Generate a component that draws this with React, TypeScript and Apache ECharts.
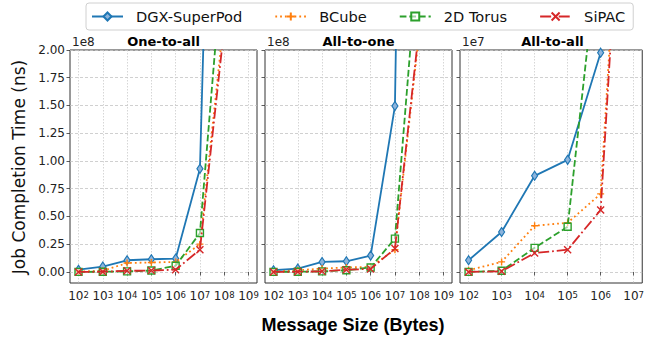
import React, { useEffect, useRef } from 'react';
import * as echarts from 'echarts';

// ---------------- data ----------------
const messageSizes = [1e2, 1e3, 1e4, 1e5, 1e6, 1e7, 1e8, 1e9];
const messageSizesA2A = [1e2, 1e3, 1e4, 1e5, 1e6, 1e7];

const seriesNames = ['DGX-SuperPod', 'BCube', '2D Torus', 'SiPAC'];
const panelTitles = ['One-to-all', 'All-to-one', 'All-to-all'];
const offsetLabels = ['1e8', '1e8', '1e7'];

// Job completion time (ns)
const oneToAllDGX = [2.0e6, 4.8e6, 1.05e7, 1.14e7, 1.2e7, 9.3e7, 8.8e8, 8.8e9];
const oneToAllBCube = [0.3e6, 1.0e6, 8.0e6, 8.5e6, 9.0e6, 2.5e7, 2.3e8, 2.3e9];
const oneToAllTorus = [0, 0.2e6, 0.5e6, 1.2e6, 5.5e6, 3.5e7, 3.0e8, 3.0e9];
const oneToAllSiPAC = [0, 0.2e6, 1.0e6, 1.2e6, 2.0e6, 2.0e7, 2.2e8, 2.2e9];

const allToOneDGX = [1.5e6, 3.0e6, 9.0e6, 9.6e6, 1.47e7, 1.495e8, 1.5e9, 1.5e10];
const allToOneBCube = [0.2e6, 1.5e6, 3.0e6, 4.0e6, 4.5e6, 2.0e7, 2.15e8, 2.2e9];
const allToOneTorus = [0, 0.2e6, 0.5e6, 1.5e6, 4.0e6, 3.0e7, 3.0e8, 3.0e9];
const allToOneSiPAC = [0, 0.2e6, 0.5e6, 2.0e6, 2.7e6, 2.1e7, 2.2e8, 2.2e9];

const allToAllDGX = [1.05e6, 3.6e6, 8.66e6, 1.01e7, 1.976e7, 1.5e8];
const allToAllBCube = [0.15e6, 0.9e6, 4.16e6, 4.43e6, 7.03e6, 5.6e7];
const allToAllTorus = [0, 0.1e6, 2.17e6, 4.07e6, 3.1e7, 3.0e8];
const allToAllSiPAC = [0, 0.05e6, 1.7e6, 2.0e6, 5.58e6, 5.5e7];

const xTickExponents = [2, 3, 4, 5, 6, 7, 8, 9];
const xTickExponentsA2A = [2, 3, 4, 5, 6, 7];
const yTicksE8 = [0, 0.25e8, 0.5e8, 0.75e8, 1.0e8, 1.25e8, 1.5e8, 1.75e8, 2.0e8];
const yTicksE7 = [0, 0.25e7, 0.5e7, 0.75e7, 1.0e7, 1.25e7, 1.5e7, 1.75e7, 2.0e7];

// ---------------- styles ----------------
const colors = ['#1f77b4', '#ff7f0e', '#2ca02c', '#d62728'];
const lineTypes: any[] = ['solid', [1.8, 3], [6.7, 2.9], [11, 2.9, 1.8, 2.9]];
const symbols = [
  'diamond',
  'path://M5,0L5,10M0,5L10,5',
  'rect',
  'path://M0,0L10,10M0,10L10,0',
];
const symbolSizes: any[] = [[6, 9], 7, 7, 7];
const symbolFills = ['#8db4dc', '#ff7f0e', 'rgba(255,255,255,0.55)', '#d62728'];

const panelData = [
  { sizes: messageSizes, values: [oneToAllDGX, oneToAllBCube, oneToAllTorus, oneToAllSiPAC] },
  { sizes: messageSizes, values: [allToOneDGX, allToOneBCube, allToOneTorus, allToOneSiPAC] },
  { sizes: messageSizesA2A, values: [allToAllDGX, allToAllBCube, allToAllTorus, allToAllSiPAC] },
];

const grids = [
  { left: 70, top: 50, width: 187, height: 233 },
  { left: 265, top: 50, width: 187, height: 233 },
  { left: 460, top: 50, width: 185, height: 233 },
];
const xRanges = [
  [1.65, 9.35],
  [1.65, 9.35],
  [1.74, 7.26],
];
const yRanges = [
  [-1.0e7, 2.0e8],
  [-1.0e7, 2.0e8],
  [-1.0e6, 2.0e7],
];

const FONT = 'DejaVu Sans';

export default function App() {
  const ref = useRef<HTMLDivElement>(null);

  useEffect(() => {
    if (!ref.current) return;
    const chart = echarts.init(ref.current, null, { renderer: 'svg' });

    const xTicksFor = [xTickExponents, xTickExponents, xTickExponentsA2A];
    const yTicksFor = [yTicksE8, yTicksE8, yTicksE7];
    const yScale = [1e8, 1e8, 1e7];

    const xAxis = grids.map((_, i) => ({
      type: 'value',
      gridIndex: i,
      min: xRanges[i][0],
      max: xRanges[i][1],
      axisLine: { show: false },
      axisTick: {
        show: true,
        inside: false,
        length: 3.5,
        lineStyle: { color: '#333', width: 0.8 },
        customValues: xTicksFor[i],
      },
      axisLabel: {
        customValues: xTicksFor[i],
        margin: 7,
        color: '#222',
        fontFamily: FONT,
        formatter: (v: number) => `{b|10}{s|${Math.round(v)}}`,
        rich: {
          b: { fontSize: 12, fontFamily: FONT, color: '#222' },
          s: { fontSize: 8.5, fontFamily: FONT, color: '#222', verticalAlign: 'top' },
        },
      },
      splitLine: {
        show: true,
        lineStyle: { color: '#cccccc', type: [1.5, 1.5], width: 0.8 },
      },
    }));

    const yAxis = grids.map((_, i) => ({
      type: 'value',
      gridIndex: i,
      min: yRanges[i][0],
      max: yRanges[i][1],
      axisLine: { show: false },
      axisTick: {
        show: true,
        inside: false,
        length: 3.5,
        lineStyle: { color: '#333', width: 0.8 },
        customValues: yTicksFor[i],
      },
      axisLabel: {
        show: i === 0,
        customValues: yTicksFor[i],
        margin: 5,
        fontSize: 12,
        fontFamily: FONT,
        color: '#222',
        formatter: (v: number) => (v / yScale[i]).toFixed(2),
      },
      splitLine: {
        show: true,
        lineStyle: { color: '#c4c4c4', type: [3, 2], width: 0.8 },
      },
    }));

    const series: any[] = [];
    panelData.forEach((panel, p) => {
      panel.values.forEach((vals, s) => {
        series.push({
          type: 'line',
          name: seriesNames[s],
          xAxisIndex: p,
          yAxisIndex: p,
          data: panel.sizes.map((sz, k) => [Math.log10(sz), vals[k]]),
          clip: true,
          showAllSymbol: true,
          symbol: symbols[s],
          symbolSize: symbolSizes[s],
          symbolKeepAspect: false,
          lineStyle: { color: colors[s], width: 1.8, type: lineTypes[s] },
          itemStyle: {
            color: symbolFills[s],
            borderColor: colors[s],
            borderWidth: s === 0 ? 1.2 : 1.4,
          },
          emphasis: { disabled: true },
          z: 2 + s,
        });
      });
    });

    const graphic: any[] = [];
    grids.forEach((g, i) => {
      graphic.push({
        type: 'text',
        x: g.left + g.width / 2,
        y: 41,
        style: {
          text: panelTitles[i],
          font: `bold 13px "${FONT}"`,
          fill: '#000',
          align: 'center',
          verticalAlign: 'middle',
        },
      });
      graphic.push({
        type: 'text',
        x: g.left + 2,
        y: 42,
        style: {
          text: offsetLabels[i],
          font: `12px "${FONT}"`,
          fill: '#222',
          align: 'left',
          verticalAlign: 'middle',
        },
      });
    });
    graphic.push({
      type: 'text',
      x: 19,
      y: 167,
      rotation: Math.PI / 2,
      style: {
        text: 'Job Completion Time (ns)',
        font: `17px "${FONT}"`,
        fill: '#111',
        align: 'center',
        verticalAlign: 'middle',
      },
    });
    graphic.push({
      type: 'text',
      x: 353,
      y: 325,
      style: {
        text: 'Message Size (Bytes)',
        font: 'bold 18px "Liberation Sans"',
        fill: '#000',
        align: 'center',
        verticalAlign: 'middle',
      },
    });

    chart.setOption({
      animation: false,
      textStyle: { fontFamily: FONT },
      legend: {
        data: seriesNames,
        left: 86,
        top: 3,
        itemWidth: 31,
        itemHeight: 10,
        itemGap: 32,
        padding: [6, 8, 6, 5],
        borderColor: '#d0d0d0',
        borderWidth: 1,
        borderRadius: 3,
        backgroundColor: '#fff',
        textStyle: { fontSize: 14.6, fontFamily: FONT, color: '#111', padding: [0, 0, 0, 8] },
      },
      grid: grids.map((g) => ({
        ...g,
        show: true,
        borderColor: '#333',
        borderWidth: 1,
        backgroundColor: 'transparent',
        containLabel: false,
      })),
      xAxis,
      yAxis,
      series,
      graphic,
    });

    return () => chart.dispose();
  }, []);

  return (
    <div
      ref={ref}
      style={{ position: 'absolute', left: 0, top: 0, width: 647, height: 339, background: '#fff' }}
    />
  );
}
